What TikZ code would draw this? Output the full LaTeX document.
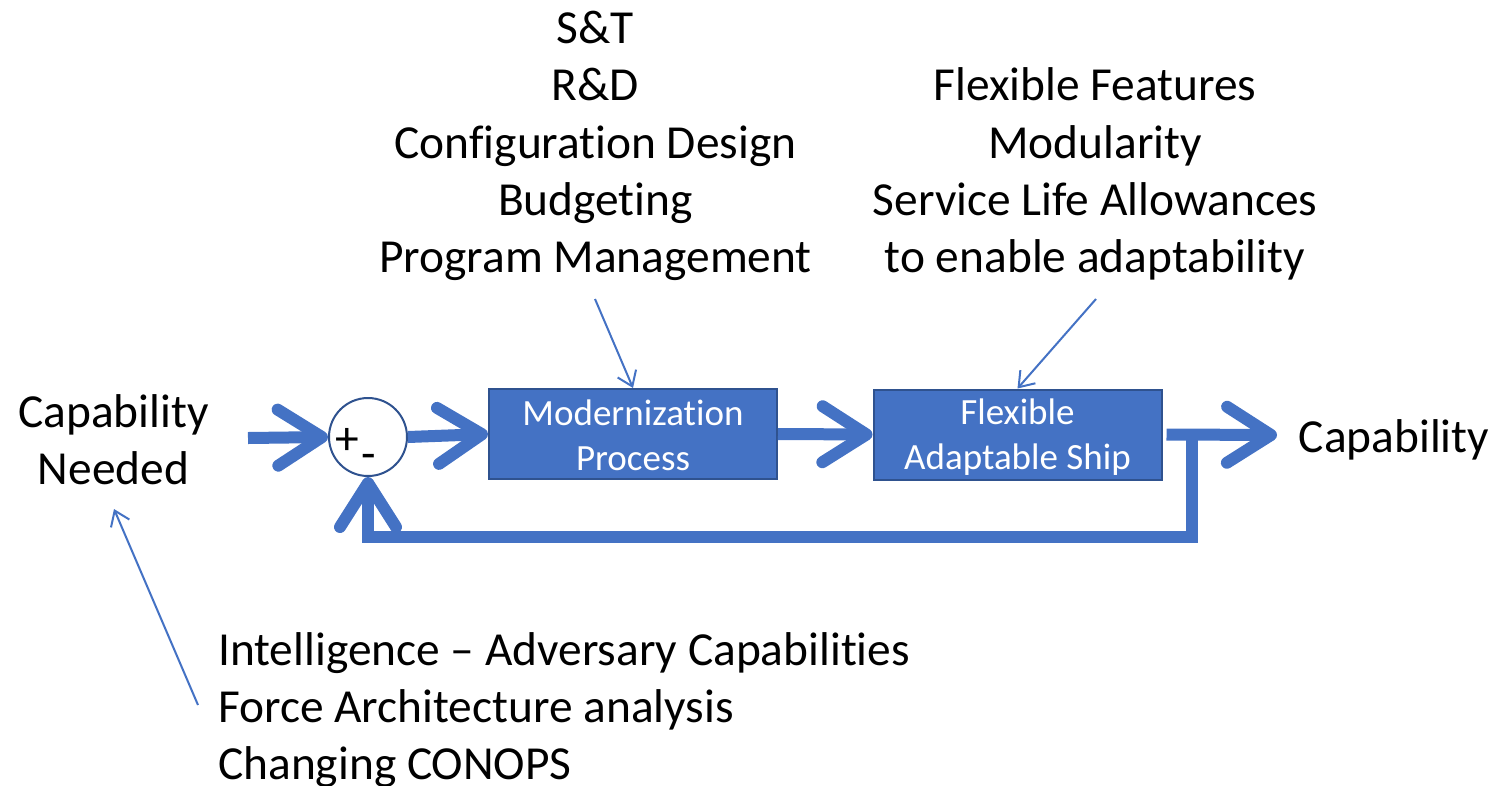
\documentclass[tikz,border=0pt]{standalone}
\usepackage{fontspec}
\setmainfont{Carlito}[Ligatures=CommonOff,RawFeature={-liga;-calt;-dlig}]
\usetikzlibrary{arrows.meta,calc}
\definecolor{ublue}{HTML}{4472C4}
\definecolor{dblue}{HTML}{2F528F}
\begin{document}
\begin{tikzpicture}[x=1pt,y=-1pt,
  big/.style={font=\fontsize{47.4}{57.3}\selectfont, inner sep=0pt},
  lbl/.style={big, anchor=base},
  lblw/.style={big, anchor=base west},
  block/.style={draw=dblue, line width=2pt, fill=ublue, text=white,
    minimum width=288pt, minimum height=90pt, inner sep=0pt, align=center,
    font=\fontsize{37}{45}\selectfont},
  sumnode/.style={circle, draw=dblue, fill=white, line width=2pt,
    minimum size=78pt, inner sep=0pt},
  flow/.style={draw=ublue, line width=12pt, line join=miter,
    -{Straight Barb[length=44pt,width=56pt,round]}},
  note/.style={draw=ublue, line width=2pt,
    -{Straight Barb[length=14pt,width=20pt]}}]
\useasboundingbox (0,0) rectangle (1496,785);

% blocks
\node[block] (mod) at (633,434) {\rule[-3pt]{0pt}{33pt}Modernization\\\rule[-3pt]{0pt}{33pt}Process};
\node[block] (flex) at (1017.5,434.5) {\rule[-3pt]{0pt}{33pt}Flexible\\\rule[-3pt]{0pt}{33pt}Adaptable Ship};
\node[sumnode] (sum) at (368,437) {};
\node[big] (plus) at (347,441) {+};
\node[big] (minus) at (369,462) {-};

% top left text block
\node[lbl] (st) at (595.5,43) {S\&T};
\node[lbl] (rd) at (595.5,100) {R\&D};
\node[lbl] (cd) at (595.5,158) {Configuration Design};
\node[lbl] (bu) at (595.5,215) {Budgeting};
\node[lbl] (pm) at (595.5,272) {Program Management};

% top right text block
\node[lbl] (ff) at (1095,100) {Flexible Features};
\node[lbl] (mo) at (1095,158) {Modularity};
\node[lbl] (sl) at (1095,215) {Service Life Allowances};
\node[lbl] (ea) at (1095,272) {to enable adaptability};

% left / right texts
\node[lbl] (cn1) at (113.5,427) {Capability};
\node[lbl] (cn2) at (113.5,484) {Needed};
\node[lbl] (cap) at (1394,452) {Capability};

% bottom text block
\node[lblw] (b1) at (218,665) {Intelligence – Adversary Capabilities};
\node[lblw] (b2) at (218,722) {Force Architecture analysis};
\node[lblw] (b3) at (218,779) {Changing CONOPS};

% main flow
\coordinate (in) at (248,438);
\coordinate (out) at (1277,435);
\coordinate (fb) at (1192,436);
\draw[flow] (in) -- (sum.west);
\draw[flow] (sum.east) -- (mod.west);
\draw[flow] (mod.east) -- (flex.west);
\draw[flow] ([xshift=4pt]flex.east) -- (out);
\draw[flow] (fb) -- ++(0,101) -| (sum.south);

% thin annotation arrows
\coordinate (n1) at (595,299);
\coordinate (n2) at (1096,299);
\coordinate (n3) at (198,705);
\draw[note] (n1) -- (mod.north);
\draw[note] (n2) -- (flex.north);
\draw[note] (n3) -- ($(cn2.base)+(0.5,25)$);
\end{tikzpicture}
\end{document}
